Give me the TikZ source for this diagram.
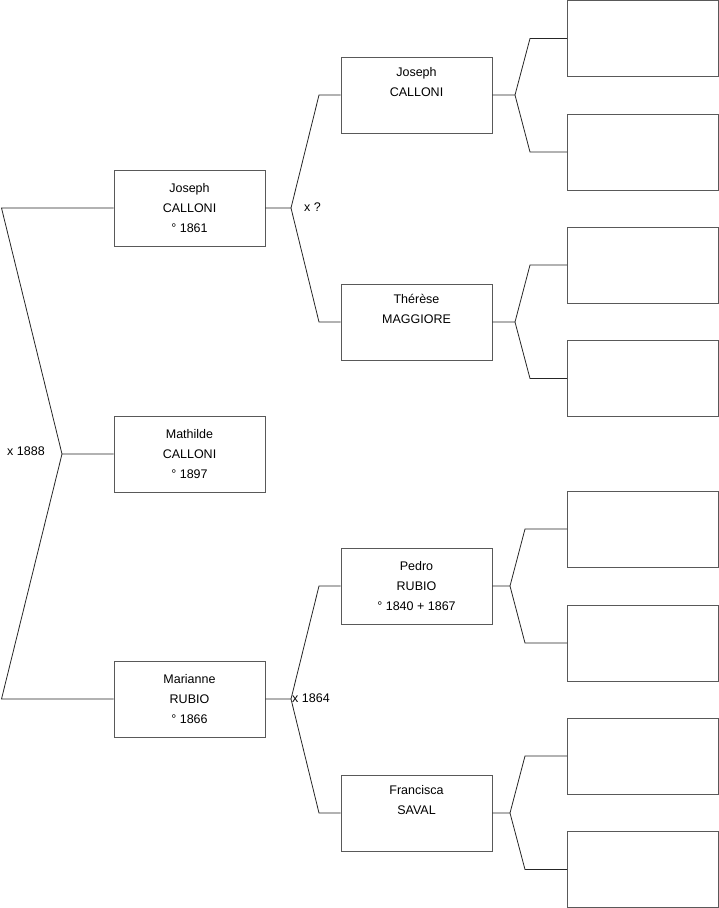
\documentclass[tikz,border=0pt]{standalone}
\usepackage{fontspec}
\setmainfont{Liberation Sans}
\begin{document}
\begin{tikzpicture}[x=1pt,y=-1pt,
  person/.style={draw=black!65,line width=0.9pt,rectangle,minimum width=151pt,minimum height=76pt,inner sep=0pt,align=center,font=\fontsize{12.5}{20}\selectfont},
  link/.style={draw=black!85,line width=0.8pt},
  lbl/.style={font=\fontsize{12.5}{15}\selectfont,inner sep=0pt}]
\useasboundingbox (0,0) rectangle (719,908);
% generation 1
\node[person] (m) at (189.5,454) {Mathilde\\CALLONI\\° 1897};
% generation 2
\node[person] (j1) at (189.5,208) {Joseph\\CALLONI\\° 1861};
\node[person] (r1) at (189.5,699) {Marianne\\RUBIO\\° 1866};
% generation 3
\node[person] (j2) at (416.5,95) {Joseph\\CALLONI\\\strut};
\node[person] (t2) at (416.5,322) {Thérèse\\MAGGIORE\\\strut};
\node[person] (p2) at (416.5,586) {Pedro\\RUBIO\\° 1840 + 1867};
\node[person] (f2) at (416.5,813) {Francisca\\SAVAL\\\strut};
% generation 4 (empty)
\node[person] (e1) at (643,38.5) {};
\node[person] (e2) at (643,152) {};
\node[person] (e3) at (643,265) {};
\node[person] (e4) at (643,378.5) {};
\node[person] (e5) at (643,529) {};
\node[person] (e6) at (643,643) {};
\node[person] (e7) at (643,756) {};
\node[person] (e8) at (643,869.5) {};
% level 1 fork
\coordinate (f0) at (62,454);
\coordinate (a0) at (1.5,208);
\coordinate (b0) at (1.5,699);
\draw[link] (m.west) -- (f0) -- (a0) -- (j1.west);
\draw[link] (f0) -- (b0) -- (r1.west);
\node[lbl] (l0) at (26,451) {x 1888};
% level 2 forks
\coordinate (f1) at (291,208);
\coordinate (a1) at (319,95);
\coordinate (b1) at (319,322);
\draw[link] (j1.east) -- (f1) -- (a1) -- (j2.west);
\draw[link] (f1) -- (b1) -- (t2.west);
\node[lbl,anchor=west] (l1) at (304,207) {x ?};
\coordinate (f2c) at (291,699);
\coordinate (a2) at (319,586);
\coordinate (b2) at (319,813);
\draw[link] (r1.east) -- (f2c) -- (a2) -- (p2.west);
\draw[link] (f2c) -- (b2) -- (f2.west);
\node[lbl,anchor=west] (l2) at (292,698) {x 1864};
% level 3 forks
\coordinate (g1) at (515,95);
\coordinate (g1a) at (530,38.5);
\coordinate (g1b) at (530,152);
\draw[link] (j2.east) -- (g1) -- (g1a) -- (e1.west);
\draw[link] (g1) -- (g1b) -- (e2.west);
\coordinate (g2) at (515,322);
\coordinate (g2a) at (530,265);
\coordinate (g2b) at (530,378.5);
\draw[link] (t2.east) -- (g2) -- (g2a) -- (e3.west);
\draw[link] (g2) -- (g2b) -- (e4.west);
\coordinate (g3) at (510,586);
\coordinate (g3a) at (525,529);
\coordinate (g3b) at (525,643);
\draw[link] (p2.east) -- (g3) -- (g3a) -- (e5.west);
\draw[link] (g3) -- (g3b) -- (e6.west);
\coordinate (g4) at (510,813);
\coordinate (g4a) at (525,756);
\coordinate (g4b) at (525,869.5);
\draw[link] (f2.east) -- (g4) -- (g4a) -- (e7.west);
\draw[link] (g4) -- (g4b) -- (e8.west);
\end{tikzpicture}
\end{document}
